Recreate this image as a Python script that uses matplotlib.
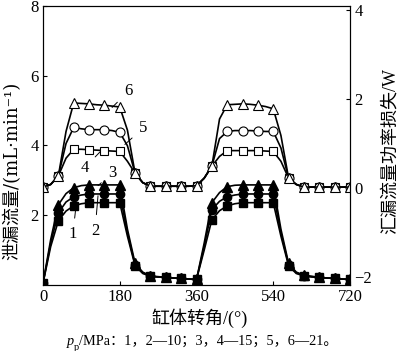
import matplotlib
matplotlib.use('Agg')
import matplotlib.pyplot as plt
import numpy as np

plt.rcParams['font.family'] = ['Liberation Serif', 'Noto Sans CJK SC', 'DejaVu Serif']

# crank angle, 18 deg steps (markers every 36 deg)
angle = np.arange(0, 721, 18)

# leakage flow, mL/min (left axis) -- curves 1, 2, 3
flow_1 = [0.05, 1.1, 1.84, 2.12, 2.27, 2.33, 2.36, 2.36, 2.36, 2.36, 2.36, 1.4, 0.55, 0.33, 0.25, 0.23,
          0.22, 0.2, 0.19, 0.17, 0.16, 1.0, 1.87, 2.13, 2.27, 2.33, 2.36, 2.36, 2.36, 2.36, 2.36, 1.4,
          0.55, 0.33, 0.26, 0.23, 0.22, 0.2, 0.19, 0.17, 0.16]
flow_2 = [0.05, 1.2, 2.07, 2.38, 2.53, 2.58, 2.61, 2.61, 2.61, 2.61, 2.61, 1.5, 0.58, 0.35, 0.25, 0.23,
          0.22, 0.2, 0.19, 0.17, 0.16, 1.1, 2.16, 2.4, 2.53, 2.58, 2.61, 2.61, 2.61, 2.61, 2.61, 1.5,
          0.58, 0.35, 0.27, 0.24, 0.22, 0.2, 0.19, 0.17, 0.16]
flow_3 = [0.05, 1.3, 2.3, 2.62, 2.79, 2.85, 2.87, 2.87, 2.87, 2.87, 2.87, 1.6, 0.62, 0.37, 0.26, 0.24,
          0.22, 0.2, 0.19, 0.17, 0.16, 1.2, 2.36, 2.65, 2.82, 2.86, 2.87, 2.87, 2.87, 2.87, 2.87, 1.6,
          0.62, 0.37, 0.28, 0.25, 0.22, 0.2, 0.19, 0.17, 0.16]

# power loss, W (right axis) -- curves 4, 5, 6
loss_4 = [0.02, 0.08, 0.27, 0.67, 0.87, 0.87, 0.86, 0.85, 0.84, 0.83, 0.82, 0.6, 0.33, 0.12, 0.04, 0.04,
          0.04, 0.04, 0.04, 0.04, 0.05, 0.22, 0.49, 0.71, 0.84, 0.84, 0.84, 0.84, 0.84, 0.83, 0.82, 0.6,
          0.22, 0.08, 0.02, 0.02, 0.02, 0.02, 0.02, 0.02, 0.02]
loss_5 = [0.02, 0.08, 0.27, 1.0, 1.36, 1.33, 1.31, 1.31, 1.31, 1.29, 1.25, 0.95, 0.33, 0.12, 0.04, 0.04,
          0.04, 0.04, 0.04, 0.04, 0.05, 0.22, 0.49, 1.11, 1.27, 1.29, 1.29, 1.29, 1.28, 1.27, 1.27, 0.9,
          0.22, 0.08, 0.02, 0.02, 0.02, 0.02, 0.02, 0.02, 0.02]
loss_6 = [0.02, 0.08, 0.27, 1.27, 1.91, 1.9, 1.89, 1.87, 1.86, 1.84, 1.82, 1.3, 0.33, 0.12, 0.04, 0.04,
          0.04, 0.04, 0.04, 0.04, 0.05, 0.22, 0.49, 1.55, 1.87, 1.88, 1.89, 1.88, 1.86, 1.83, 1.78, 1.18,
          0.22, 0.08, 0.02, 0.02, 0.02, 0.02, 0.02, 0.02, 0.02]

fig = plt.figure(figsize=(4.0, 3.51), dpi=100)
ax = fig.add_axes([0.1075, 0.188, 0.7675, 0.795])
ax2 = ax.twinx()

lw = 1.2
for y, m, ms in [(loss_4, 's', 6), (loss_5, 'o', 6.5), (loss_6, '^', 7)]:
    ax2.plot(angle, y, color='black', lw=lw, marker=m, ms=ms, markevery=2,
             mfc='white', mec='black', mew=0.8)
for y, m, ms in [(flow_1, 's', 5.5), (flow_2, 'o', 6), (flow_3, '^', 6.5)]:
    ax.plot(angle, y, color='black', lw=lw, marker=m, ms=ms, markevery=2,
            mfc='black', mec='black')

ax.set_zorder(ax2.get_zorder() + 1)
ax.patch.set_visible(False)

ax.set_xlim(0, 720)
ax.set_ylim(0, 8)
ax2.set_ylim(-2.18, 4.09)
ax.set_xticks([0, 180, 360, 540, 720])
ax.set_yticks([2, 4, 6, 8])
ax2.set_yticks([-2, 0, 2, 4])
for a in (ax, ax2):
    a.tick_params(direction='in', labelsize=12, length=3, width=0.8, pad=3)
    for s in a.spines.values():
        s.set_linewidth(0.8)

ax.set_xlabel('缸体转角/(°)', fontsize=13)
ax.xaxis.set_label_coords(0.51, -0.085)
ax.set_ylabel('泄漏流量/(mL·min⁻¹)', fontsize=13,
              family=['DejaVu Serif', 'Noto Sans CJK SC'])
ax.yaxis.set_label_coords(-0.07, 0.41)
ax2.set_ylabel('汇漏流量功率损失/W', fontsize=13)
ax2.yaxis.set_label_coords(1.105, 0.48)

# curve labels with leader lines
labels = [('1', (77, 2.22), (70, 1.45)),
          ('2', (129, 2.56), (122, 1.55)),
          ('3', (129, 2.85), (163, 3.2)),
          ('4', (134, 3.82), (97, 3.35)),
          ('5', (192, 4.03), (235, 4.5)),
          ('6', (162, 5.09), (200, 5.55))]
for txt, tip, pos in labels:
    ax.annotate(txt, xy=tip, xytext=pos, fontsize=12, ha='center', va='center',
                arrowprops=dict(arrowstyle='-', lw=0.7, color='black',
                                shrinkA=4, shrinkB=0))

# caption: italic p with roman subscript p, then the rest
t1 = fig.text(0.168, 0.028, 'p', fontstyle='italic', fontsize=10.3, va='center')
t2 = ax.annotate('p', xy=(1, 0.05), xycoords=t1, fontsize=7.5, va='center', ha='left',
                 annotation_clip=False)
ax.annotate('/MPa：1，2—10；3，4—15；5，6—21。', xy=(1, 0.5), xycoords=(t2, t1),
            fontsize=10.3, va='center', ha='left', annotation_clip=False)

fig.savefig('out.png', dpi=100)
